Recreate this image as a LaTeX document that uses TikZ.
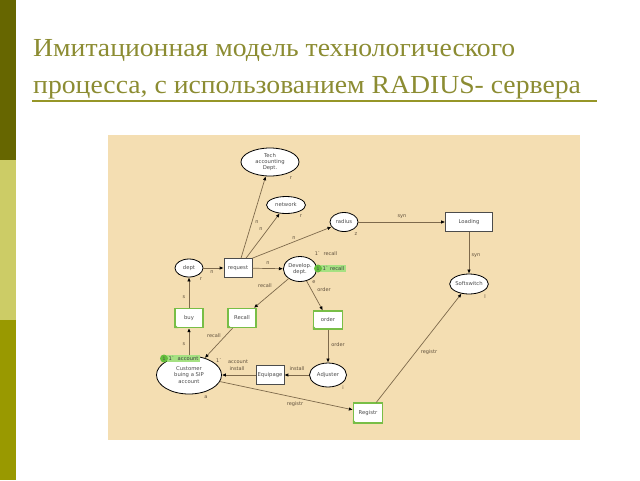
\documentclass[tikz,border=0pt]{standalone}
\usepackage{fontspec}
\setmainfont{Liberation Serif}
\newfontfamily\dsans{DejaVu Sans}
\usetikzlibrary{arrows.meta,shapes.geometric}
\definecolor{barA}{RGB}{102,102,0}
\definecolor{barB}{RGB}{204,204,102}
\definecolor{barC}{RGB}{153,153,0}
\definecolor{titlecol}{RGB}{140,140,50}
\definecolor{rulecol}{RGB}{150,150,40}
\definecolor{bgcol}{RGB}{244,222,178}
\definecolor{arccol}{RGB}{125,105,75}
\definecolor{labcol}{RGB}{95,80,60}
\definecolor{txtcol}{RGB}{75,75,75}
\definecolor{tgreen}{RGB}{120,190,70}
\definecolor{tokfill}{RGB}{165,225,130}
\definecolor{tokdark}{RGB}{100,190,60}
\begin{document}
\begin{tikzpicture}[x=1pt,y=-1pt,
  place/.style={ellipse, draw=black, line width=0.8pt, fill=white, inner sep=0pt,
    font=\dsans\fontsize{5.3}{6.2}\selectfont, text=txtcol, align=center},
  trans/.style={rectangle, draw=black!70, line width=0.6pt, fill=white, inner sep=0pt,
    font=\dsans\fontsize{5.3}{6.2}\selectfont, text=txtcol, align=center},
  gtrans/.style={trans, draw=tgreen, line width=1.2pt},
  arc/.style={draw=arccol, line width=0.7pt, -{Latex[length=4pt,width=3.4pt,color=black]}},
  lab/.style={font=\dsans\fontsize{5}{6}\selectfont, text=labcol, inner sep=0pt},
  tokbox/.style={rectangle, fill=tokfill, inner sep=1.3pt, font=\dsans\fontsize{5.2}{6}\selectfont, text=black!75, anchor=west},
  tokdot/.style={circle, fill=tokdark, inner sep=0pt, minimum size=8pt, font=\dsans\fontsize{4.5}{4.5}\selectfont, text=black!70},
  ttl/.style={anchor=base west, inner sep=0pt, text=titlecol, font=\fontsize{26}{30}\selectfont, xscale=1.065}
]
\useasboundingbox (0,0) rectangle (640,480);
\fill[white] (0,0) rectangle (640,480);
% side bars
\fill[barA] (0,0) rectangle (15.5,160);
\fill[barB] (0,160) rectangle (15.5,320);
\fill[barC] (0,320) rectangle (15.5,480);
% title
\node[ttl] (t1) at (33,56) {Имитационная модель технологического};
\node[ttl] (t2) at (33,93) {процесса, с использованием RADIUS- сервера};
\draw[rulecol, line width=1.6pt] (32,101) -- (597,101);
% diagram background
\fill[bgcol] (108,135) rectangle (580,440);
% places
\node[place, minimum width=58pt, minimum height=28pt] (tech) at (270,162) {Tech\\accounting\\Dept.};
\node[place, minimum width=39pt, minimum height=17pt] (network) at (286,205) {network};
\node[place, minimum width=28pt, minimum height=19pt] (radius) at (344,222) {radius};
\node[place, minimum width=28pt, minimum height=18pt] (dept) at (189,268) {dept};
\node[place, minimum width=33pt, minimum height=25pt] (develop) at (300,269) {Develop.\\dept.};
\node[place, minimum width=35pt, minimum height=20pt] (soft) at (469,284) {Softswitch};
\node[place, minimum width=37pt, minimum height=24pt] (adjuster) at (328,375) {Adjuster};
\node[place, minimum width=65pt, minimum height=38pt] (customer) at (189,375) {Customer\\buing a SIP\\account};
% transitions
\node[trans, minimum width=47pt, minimum height=19pt] (loading) at (469,222) {Loading};
\node[trans, minimum width=28pt, minimum height=19pt] (request) at (238,268) {request};
\node[trans, minimum width=28pt, minimum height=19pt] (equipage) at (270,375) {Equipage};
\node[gtrans, minimum width=28pt, minimum height=19pt] (buy) at (189,318) {buy};
\node[gtrans, minimum width=28pt, minimum height=19pt] (recall) at (242,318) {Recall};
\node[gtrans, minimum width=29pt, minimum height=18pt] (order) at (328,320) {order};
\node[gtrans, minimum width=29pt, minimum height=20pt] (registr) at (368,413) {Registr};
\foreach \n in {buy,recall,order,registr}{
  \fill[tgreen] (\n.south west) -- ++(4,0) -- ++(-4,-4) -- cycle;
}
% arcs
\draw[arc] (dept) -- (request);
\draw[arc] ([xshift=3pt]request.north) -- (tech);
\draw[arc] ([xshift=8pt]request.north) -- (network);
\draw[arc] (request.north east) -- (radius);
\draw[arc] (request) -- (develop);
\draw[arc] (radius) -- (loading);
\draw[arc] (loading) -- (soft);
\draw[arc] (develop) -- (recall);
\draw[arc] (develop) -- (order);
\draw[arc] (order) -- (adjuster);
\draw[arc] (adjuster) -- (equipage);
\draw[arc] (equipage) -- (customer);
\draw[arc] (recall) -- (customer);
\draw[arc] (customer) -- (buy);
\draw[arc] (buy) -- (dept);
\draw[arc] (customer) -- (registr);
\draw[arc] (registr) -- (soft);
% arc labels
\node[lab] (l1) at (212,272) {n};
\node[lab] (l2) at (257,222) {n};
\node[lab] (l3) at (261,229) {n};
\node[lab] (l4) at (294,238) {n};
\node[lab] (l5) at (268,263) {n};
\node[lab] (l6) at (402,217) {syn};
\node[lab] (l7) at (476,256) {syn};
\node[lab] (l8) at (184,297) {s};
\node[lab] (l9) at (184,344) {s};
\node[lab] (l10) at (265,286) {recall};
\node[lab] (l11) at (214,336) {recall};
\node[lab] (l12) at (324,290) {order};
\node[lab] (l13) at (338,345) {order};
\node[lab] (l14) at (297,369) {install};
\node[lab] (l15) at (219,360) {1\textasciigrave};
\node[lab] (l16) at (238,362) {account};
\node[lab] (l17) at (237,369) {install};
\node[lab] (l18) at (295,404) {registr};
\node[lab] (l19) at (429,352) {registr};
% place inscriptions
\node[lab] (r1) at (291,178) {r};
\node[lab] (r2) at (301,216) {r};
\node[lab] (r3) at (356,234) {z};
\node[lab] (r4) at (201,279) {r};
\node[lab] (r5) at (314,282) {e};
\node[lab] (r6) at (485,297) {l};
\node[lab] (r7) at (343,388) {i};
\node[lab] (r8) at (206,397) {a};
\node[lab] (r9) at (326,254) {1\textasciigrave\ \ recall};
% tokens
\node[tokbox] (tk1) at (321,268.5) {1\textasciigrave\ recall};
\node[tokdot] (td1) at (318,268.5) {1};
\node[tokbox] (tk2) at (167,358.5) {1\textasciigrave\ \ account};
\node[tokdot] (td2) at (164,358.5) {1};
\end{tikzpicture}
\end{document}
